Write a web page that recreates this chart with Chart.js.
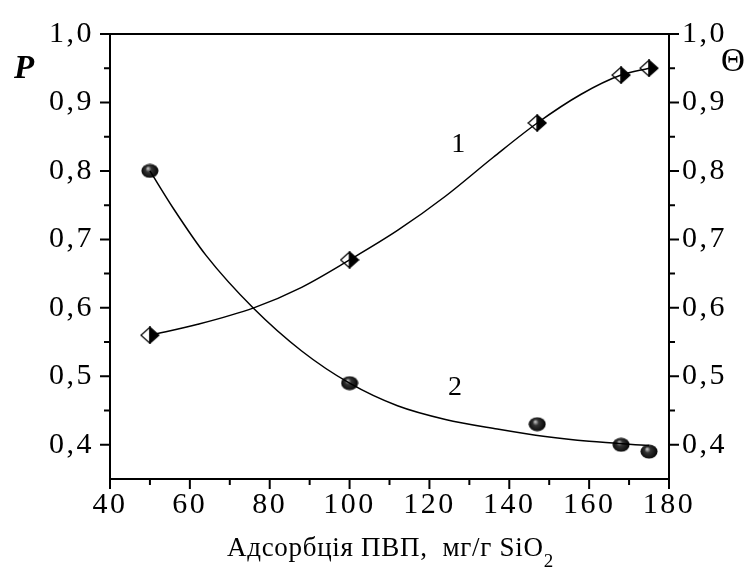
<!DOCTYPE html>
<html>
<head>
<meta charset="utf-8">
<script src="https://cdn.jsdelivr.net/npm/chart.js@4"></script>
<style>
  html, body { margin: 0; padding: 0; background: #fff; }
  #wrap { width: 746px; height: 578px; }
</style>
</head>
<body>
<div id="wrap"><canvas id="grafico"></canvas></div>
<script>
// dados
const xPontos = [50, 100, 147, 168, 175];
const serie1 = [0.56, 0.67, 0.87, 0.94, 0.95];   // curva 1 (losangos)
const serie2 = [0.80, 0.49, 0.43, 0.40, 0.39];   // curva 2 (esferas)

// curvas de ajuste lidas ponto a ponto
const ajuste1X = [50, 62, 76, 88, 100, 112, 124, 136, 147, 158, 168, 175];
const ajuste1Y = [0.56, 0.576, 0.60, 0.63, 0.67, 0.713, 0.763, 0.82, 0.87, 0.912, 0.94, 0.95];
const ajuste2X = [50, 56, 64, 76, 88, 100, 112, 124, 137, 149, 160, 175];
const ajuste2Y = [0.80, 0.744, 0.677, 0.599, 0.537, 0.49, 0.457, 0.437, 0.423, 0.412, 0.405, 0.399];

// ticks
const xMaior = [40, 60, 80, 100, 120, 140, 160, 180];
const xMenor = [50, 70, 90, 110, 130, 150, 170];
const yMaior = [0.4, 0.5, 0.6, 0.7, 0.8, 0.9, 1.0];
const yMenor = [0.45, 0.55, 0.65, 0.75, 0.85, 0.95];

const tituloX = 'Адсорбція ПВП,  мг/г SiO';
const tituloSub = '2';
const fonte = "'Liberation Serif', 'DejaVu Serif', serif";

// marcador losango meio preenchido
function criaLosango() {
    var c = document.createElement('canvas');
    c.width = 20; c.height = 18;
    var g = c.getContext('2d');
    g.lineWidth = 1.2;
    g.fillStyle = '#fff';
    g.beginPath();
    g.moveTo(10, 1); g.lineTo(1, 9); g.lineTo(10, 17); g.closePath();
    g.fill(); g.stroke();
    g.fillStyle = '#000';
    g.beginPath();
    g.moveTo(10, 1); g.lineTo(19, 9); g.lineTo(10, 17); g.closePath();
    g.fill(); g.stroke();
    return c;
}

// marcador esfera
function criaEsfera() {
    var c = document.createElement('canvas');
    c.width = 18; c.height = 15;
    var g = c.getContext('2d');
    var grad = g.createRadialGradient(7, 5, 0.5, 9, 7.5, 9);
    grad.addColorStop(0, '#bbb');
    grad.addColorStop(0.3, '#333');
    grad.addColorStop(1, '#000');
    g.fillStyle = grad;
    g.beginPath();
    g.ellipse(9, 7.5, 8.5, 7, 0, 0, Math.PI * 2);
    g.fill();
    return c;
}

function fmt(v) {
    return v.toFixed(1).replace('.', ',');
}

// espaçamento entre letras nos rótulos dos eixos
const espacamento = {
    id: 'espacamento',
    beforeUpdate(chart) { chart.ctx.letterSpacing = '2.5px'; },
    beforeDraw(chart) { chart.ctx.letterSpacing = '2.5px'; }
};

// plugin: moldura, ticks e rótulos 1 / 2 / P / Θ / título
const moldura = {
    id: 'moldura',
    afterDraw(chart) {
        var ctx = chart.ctx;
        var a = chart.chartArea;
        var sx = chart.scales.x, sy = chart.scales.y;
        ctx.save();
        ctx.letterSpacing = '0px';
        ctx.strokeStyle = '#000';
        ctx.lineWidth = 2;
        ctx.strokeRect(a.left, a.top, a.right - a.left, a.bottom - a.top);
        ctx.beginPath();
        xMaior.forEach(function(v) {
            var p = sx.getPixelForValue(v);
            ctx.moveTo(p, a.bottom); ctx.lineTo(p, a.bottom + 10);
        });
        xMenor.forEach(function(v) {
            var p = sx.getPixelForValue(v);
            ctx.moveTo(p, a.bottom); ctx.lineTo(p, a.bottom + 6);
        });
        yMaior.forEach(function(v) {
            var p = sy.getPixelForValue(v);
            ctx.moveTo(a.left, p); ctx.lineTo(a.left - 10, p);
            ctx.moveTo(a.right, p); ctx.lineTo(a.right + 10, p);
        });
        yMenor.forEach(function(v) {
            var p = sy.getPixelForValue(v);
            ctx.moveTo(a.left, p); ctx.lineTo(a.left - 6, p);
            ctx.moveTo(a.right, p); ctx.lineTo(a.right + 6, p);
        });
        ctx.stroke();

        ctx.fillStyle = '#000';
        ctx.textAlign = 'center';
        ctx.textBaseline = 'middle';
        ctx.font = '28px ' + fonte;
        ctx.fillText('1', sx.getPixelForValue(127.2), sy.getPixelForValue(0.838));
        ctx.fillText('2', sx.getPixelForValue(126.4), sy.getPixelForValue(0.483));
        ctx.font = 'italic bold 33px ' + fonte;
        ctx.fillText('P', 24, 69);
        ctx.font = '33px ' + fonte;
        ctx.fillText('Θ', 733, 62);

        // título do eixo x
        ctx.textAlign = 'left';
        ctx.textBaseline = 'alphabetic';
        ctx.font = '27px ' + fonte;
        var largura = ctx.measureText(tituloX).width;
        var n = tituloX.length;
        var esp = Math.max(0, (316 - largura) / (n - 1));
        ctx.letterSpacing = esp.toFixed(2) + 'px';
        ctx.fillText(tituloX, 227, 556);
        var w2 = ctx.measureText(tituloX).width;
        ctx.letterSpacing = '0px';
        ctx.font = '19px ' + fonte;
        ctx.fillText(tituloSub, 227 + w2, 567);
        ctx.restore();
    }
};

const ctx = document.getElementById('grafico').getContext('2d');

new Chart(ctx, {
    type: 'line',
    data: {
        datasets: [
            {
                data: ajuste1X.map(function(x, i) { return { x: x, y: ajuste1Y[i] }; }),
                borderColor: '#000', borderWidth: 1.5, pointRadius: 0,
                cubicInterpolationMode: 'monotone', fill: false
            },
            {
                data: ajuste2X.map(function(x, i) { return { x: x, y: ajuste2Y[i] }; }),
                borderColor: '#000', borderWidth: 1.5, pointRadius: 0,
                cubicInterpolationMode: 'monotone', fill: false
            },
            {
                data: xPontos.map(function(x, i) { return { x: x, y: serie1[i] }; }),
                showLine: false, pointStyle: criaLosango()
            },
            {
                data: xPontos.map(function(x, i) { return { x: x, y: serie2[i] }; }),
                showLine: false, pointStyle: criaEsfera()
            }
        ]
    },
    options: {
        responsive: true,
        maintainAspectRatio: false,
        animation: false,
        layout: { padding: { top: 31, left: 0, right: 0, bottom: 0 } },
        plugins: { legend: { display: false }, tooltip: { enabled: false } },
        scales: {
            x: {
                type: 'linear', min: 40, max: 180,
                grid: { display: false, drawTicks: false },
                border: { display: false },
                afterBuildTicks: function(s) { s.ticks = xMaior.map(function(v) { return { value: v }; }); },
                afterFit: function(s) { s.height = 99; },
                ticks: {
                    color: '#000', padding: 8, maxRotation: 0, autoSkip: false,
                    font: { family: fonte, size: 30 }
                }
            },
            y: {
                type: 'linear', min: 0.35, max: 1.0, position: 'left',
                grid: { display: false, drawTicks: false },
                border: { display: false },
                afterBuildTicks: function(s) { s.ticks = yMaior.map(function(v) { return { value: v }; }); },
                afterFit: function(s) { s.width = 110; },
                ticks: {
                    color: '#000', padding: 16,
                    font: { family: fonte, size: 30 },
                    callback: function(v) { return fmt(v); }
                }
            },
            y2: {
                type: 'linear', min: 0.35, max: 1.0, position: 'right',
                grid: { display: false, drawTicks: false },
                border: { display: false },
                afterBuildTicks: function(s) { s.ticks = yMaior.map(function(v) { return { value: v }; }); },
                afterFit: function(s) { s.width = 77; },
                ticks: {
                    color: '#000', padding: 13,
                    font: { family: fonte, size: 30 },
                    callback: function(v) { return fmt(v); }
                }
            }
        }
    },
    plugins: [espacamento, moldura]
});
</script>
</body>
</html>
